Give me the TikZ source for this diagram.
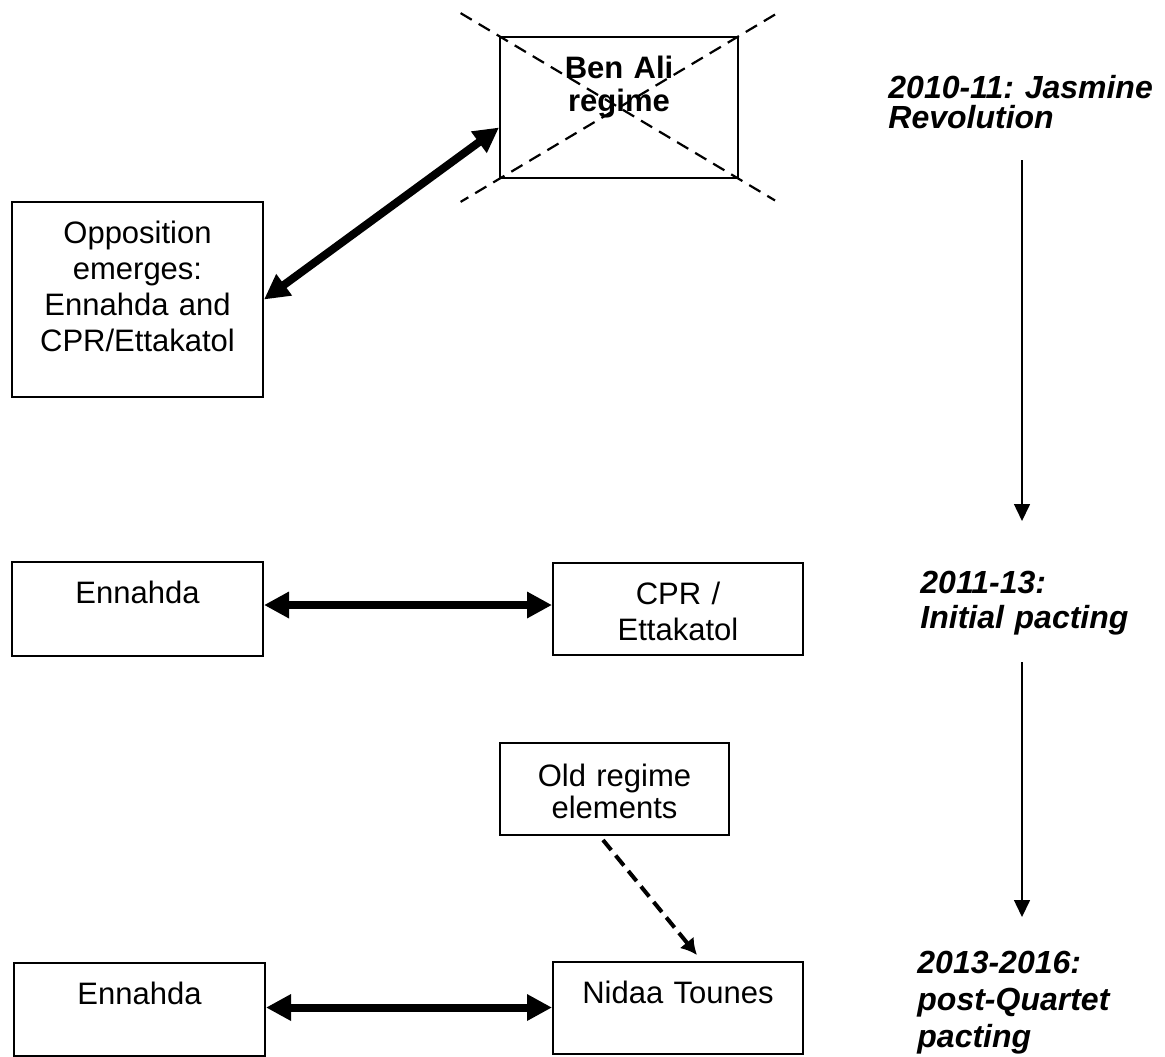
\documentclass[tikz,border=0pt]{standalone}
\usepackage{fontspec}
\setmainfont{Liberation Sans}
\usepackage{tikz}
\usetikzlibrary{positioning, arrows.meta, calc}
\frenchspacing

\begin{document}
\begin{tikzpicture}[x=0.5pt, y=-0.5pt,
  box/.style={draw, line width=1pt, inner sep=0pt, anchor=north west, align=center, font=\fontsize{15.5pt}{18pt}\selectfont},
  period/.style={inner sep=0pt, anchor=base west, align=left, text width=150pt},
  link/.style={line width=4pt, {Triangle[length=12.5pt,width=12.5pt]}-{Triangle[length=12.5pt,width=12.5pt]}},
  flow/.style={line width=0.75pt, -{Triangle[length=8.5pt,width=8pt]}},
  cross/.style={line width=1.1pt, dash pattern=on 6.5pt off 4pt}]
\useasboundingbox (0,0) rectangle (1165,1056);

\node[box, text width=119pt, text height=20.5pt, text depth=50pt, font=\fontsize{15.5pt}{16.5pt}\selectfont\bfseries] (benali) at (499,36) {Ben Ali\\regime};
\node[box, text width=125.5pt, text height=20.5pt, text depth=77pt] (opp) at (11,201) {Opposition\\emerges:\\Ennahda and\\CPR/Ettakatol};
\node[box, text width=125.5pt, text height=20.5pt, text depth=26.5pt] (enn1) at (11,561) {Ennahda};
\node[box, text width=125pt, text height=20.5pt, text depth=25.5pt] (cpr) at (552,562) {CPR /\\Ettakatol};
\node[box, text width=114.5pt, text height=21.5pt, text depth=24.5pt, font=\fontsize{15.5pt}{16pt}\selectfont] (old) at (499,742) {Old regime\\elements};
\node[box, text width=125.5pt, text height=20.5pt, text depth=26pt] (enn2) at (13,962) {Ennahda};
\node[box, text width=125pt, text height=20.5pt, text depth=25.5pt] (nidaa) at (552,961) {Nidaa Tounes};

% crossed out
\draw[cross] ($(benali.north west)!-0.16!(benali.south east)$) -- ($(benali.north west)!1.15!(benali.south east)$);
\draw[cross] ($(benali.north east)!-0.15!(benali.south west)$) -- ($(benali.north east)!1.16!(benali.south west)$);

\draw[link] (opp.east) -- ([yshift=-10pt]benali.west);
\draw[link] ([yshift=2pt]enn1.east) -- ([yshift=2pt]cpr.west);
\draw[link] ([yshift=1pt]enn2.east) -- ([yshift=1pt]enn2.east -| nidaa.west);
\draw[line width=2pt, dash pattern=on 6.5pt off 3.5pt, -{Latex[length=8pt,width=9pt]}] ([xshift=-5.75pt,yshift=-2pt]old.south) -- ([xshift=9.5pt,yshift=3pt]nidaa.north);

% timeline
\node[period, font=\fontsize{16pt}{15pt}\selectfont\bfseries\itshape] (t1) at (888,98) {2010-11: Jasmine\\Revolution};
\node[period, font=\fontsize{16pt}{17.5pt}\selectfont\bfseries\itshape] (t2) at (920,593) {2011-13:\\Initial pacting};
\node[period, font=\fontsize{16pt}{18.5pt}\selectfont\bfseries\itshape] (t3) at (917,973) {2013-2016:\\post-Quartet\\pacting};

\draw[flow] ([xshift=67pt,yshift=-31pt]t1.base west) -- ([xshift=51pt,yshift=36pt]t2.base west);
\draw[flow] ([xshift=51pt,yshift=-34.5pt]t2.base west) -- ([xshift=52.5pt,yshift=28pt]t3.base west);
\end{tikzpicture}
\end{document}
